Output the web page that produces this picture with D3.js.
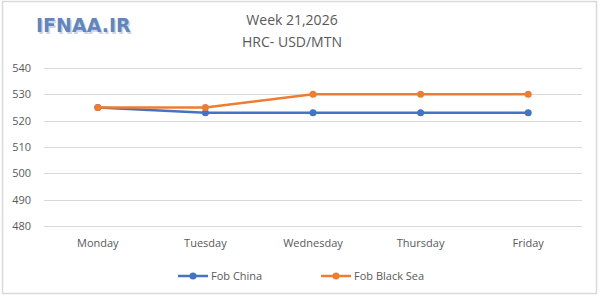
<!DOCTYPE html>
<html lang="en">
<head>
<meta charset="utf-8">
<script src="https://d3js.org/d3.v7.min.js"></script>
<style>
  body { margin: 0; background: #fff; }
  text { font-family: "Open Sans", "Liberation Sans", sans-serif; fill: #595959; }
</style>
</head>
<body>
<div id="chart"></div>
<script>
// data
var days = ["Monday", "Tuesday", "Wednesday", "Thursday", "Friday"];
var fobChina = [525, 523, 523, 523, 523];
var fobBlackSea = [525, 525, 530, 530, 530];
var yTicks = [480, 490, 500, 510, 520, 530, 540];
var seriesNames = ["Fob China", "Fob Black Sea"];
var seriesColors = ["#4472C4", "#ED7D31"];

var W = 600, H = 302;
var svg = d3.select("#chart").append("svg")
  .attr("width", W).attr("height", H);

svg.append("rect").attr("x", 0).attr("y", 0).attr("width", W).attr("height", H).attr("fill", "#fff");
// outer border
svg.append("rect").attr("x", 2.5).attr("y", 1.5).attr("width", 594).attr("height", 292)
  .attr("fill", "none").attr("stroke", "#d9d9d9").attr("stroke-width", 1.5);

// logo
svg.append("text").attr("x", 36).attr("y", 32)
  .style("font-family", "Verdana, 'DejaVu Sans', sans-serif")
  .style("font-size", "19px").style("font-weight", "bold")
  .style("fill", "#cdd6e8").text("IFNAA.IR")
  .attr("transform", "translate(1.5,1.5)");
svg.append("text").attr("x", 36).attr("y", 32)
  .style("font-family", "Verdana, 'DejaVu Sans', sans-serif")
  .style("font-size", "19px").style("font-weight", "bold")
  .style("fill", "#6385bb").text("IFNAA.IR");

// title
svg.append("text").attr("x", 292).attr("y", 25).attr("text-anchor", "middle")
  .style("font-size", "14px").text("Week 21,2026");
svg.append("text").attr("x", 292).attr("y", 47).attr("text-anchor", "middle")
  .style("font-size", "14px").text("HRC- USD/MTN");

var x = d3.scaleBand().domain(days).range([44, 582]);
var y = d3.scaleLinear().domain([480, 540]).range([226, 68]);

// gridlines
svg.selectAll("line.grid").data(yTicks).enter().append("line")
  .attr("x1", 44).attr("x2", 582)
  .attr("y1", function(d) { return Math.round(y(d)) + 0.5; })
  .attr("y2", function(d) { return Math.round(y(d)) + 0.5; })
  .attr("stroke", "#d9d9d9").attr("stroke-width", 1);

// y labels
svg.selectAll("text.ylab").data(yTicks).enter().append("text")
  .attr("x", 31).attr("y", function(d) { return y(d) + 4; })
  .attr("text-anchor", "end").style("font-size", "11px")
  .text(function(d) { return d; });

// x labels
svg.selectAll("text.xlab").data(days).enter().append("text")
  .attr("x", function(d) { return x(d) + x.bandwidth() / 2; })
  .attr("y", 247).attr("text-anchor", "middle").style("font-size", "11px")
  .text(function(d) { return d; });

var line = d3.line()
  .x(function(d, i) { return x(days[i]) + x.bandwidth() / 2; })
  .y(function(d) { return y(d); });

var allSeries = [fobChina, fobBlackSea];
allSeries.forEach(function(vals, k) {
  svg.append("path").attr("d", line(vals))
    .attr("fill", "none").attr("stroke", seriesColors[k]).attr("stroke-width", 2.5);
  svg.selectAll("circle.s" + k).data(vals).enter().append("circle")
    .attr("cx", function(d, i) { return x(days[i]) + x.bandwidth() / 2; })
    .attr("cy", function(d) { return y(d); })
    .attr("r", 3.5).attr("fill", seriesColors[k]);
});

// legend
var legX = [178, 321];
seriesNames.forEach(function(name, k) {
  var lx = legX[k], ly = 276;
  svg.append("line").attr("x1", lx).attr("x2", lx + 30).attr("y1", ly).attr("y2", ly)
    .attr("stroke", seriesColors[k]).attr("stroke-width", 2.5);
  svg.append("circle").attr("cx", lx + 15).attr("cy", ly).attr("r", 3.5).attr("fill", seriesColors[k]);
  svg.append("text").attr("x", lx + 33).attr("y", ly + 4).style("font-size", "11px").text(name);
});
</script>
</body>
</html>
